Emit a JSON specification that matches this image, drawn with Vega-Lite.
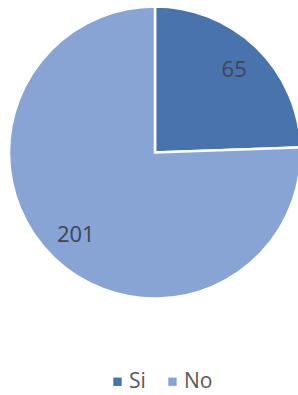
{
  "$schema": "https://vega.github.io/schema/vega-lite/v6.json",
  "autosize": "none",
  "padding": {"top": 0, "left": 0, "right": 0, "bottom": 90},
  "width": 310,
  "height": 305,
  "background": "white",
  "config": {"view": {"stroke": null}},
  "data": {"values": [
    {"k": 1, "respuesta": "Si", "n": 65},
    {"k": 2, "respuesta": "No", "n": 201}
  ]},
  "encoding": {
    "theta": {"field": "n", "type": "quantitative", "stack": true},
    "order": {"field": "k", "type": "quantitative"},
    "color": {
      "field": "respuesta", "type": "nominal",
      "scale": {"domain": ["Si", "No"], "range": ["#4873AD", "#87A4D4"]},
      "legend": {
        "title": null, "orient": "none", "direction": "horizontal",
        "legendX": 107, "legendY": 371, "padding": 0,
        "symbolType": "square", "symbolSize": 70, "symbolStrokeWidth": 0,
        "labelFont": "Open Sans", "labelFontSize": 21, "labelColor": "#595959",
        "labelOffset": 1, "columnPadding": 16
      }
    }
  },
  "layer": [
    {"mark": {"type": "arc", "radius": 146, "stroke": "white", "strokeWidth": 2.5}},
    {
      "mark": {"type": "text", "radius": 114, "font": "Open Sans", "fontSize": 22, "fill": "#3f4652"},
      "encoding": {"text": {"field": "n", "type": "quantitative"}, "color": {"value": "#3f4652"}}
    }
  ]
}
